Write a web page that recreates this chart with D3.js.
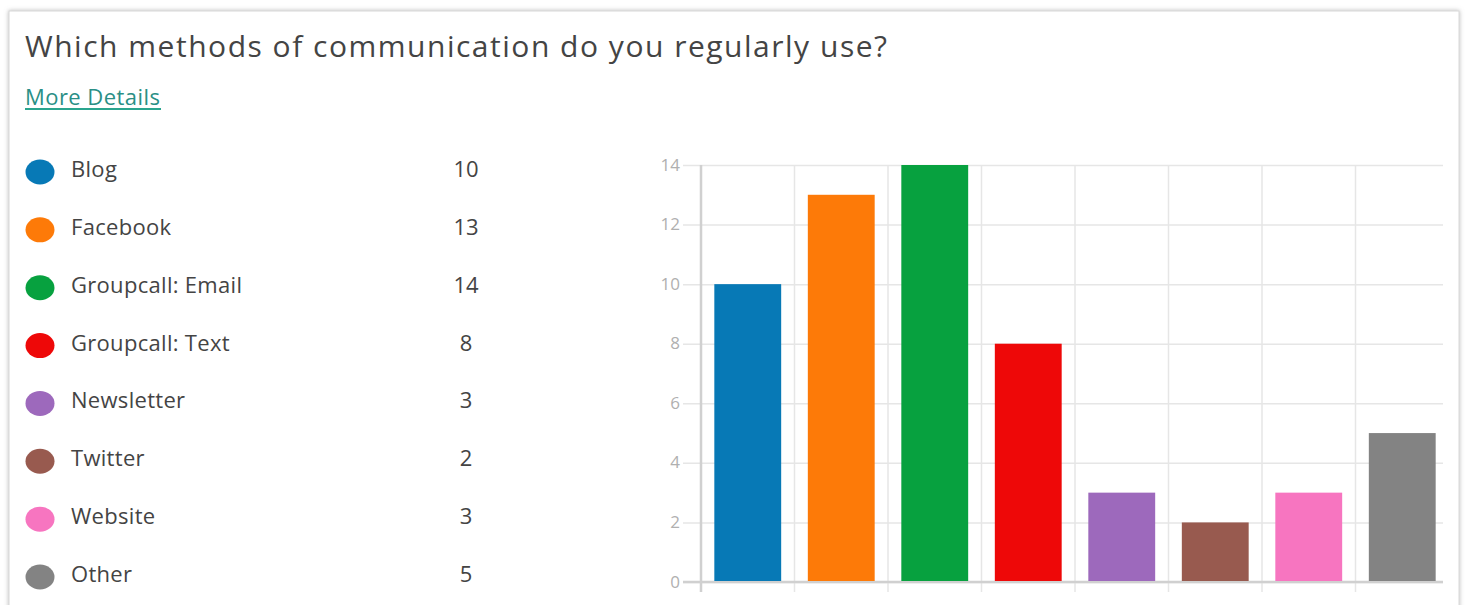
<!DOCTYPE html>
<html>
<head>
<meta charset="utf-8">
<script src="https://cdn.jsdelivr.net/npm/d3@7"></script>
<style>
  html, body { margin: 0; padding: 0; background: #fff; }
  svg text { font-family: 'Open Sans', 'Noto Sans', sans-serif; }
</style>
</head>
<body>
<div class="chart-container"></div>
<script>
// data
const categories = ['Blog', 'Facebook', 'Groupcall: Email', 'Groupcall: Text', 'Newsletter', 'Twitter', 'Website', 'Other'];
const counts = [10, 13, 14, 8, 3, 2, 3, 5];
const colors = ['#0779b6', '#fd7a08', '#07a13f', '#ee0808', '#9d69bc', '#985a4f', '#f775c0', '#838383'];
const yTicks = [0, 2, 4, 6, 8, 10, 12, 14];
const title = 'Which methods of communication do you regularly use?';

const data = categories.map((c, i) => ({name: c, value: counts[i], color: colors[i]}));

const svg_width = 1467;
const svg_height = 605;

const svg = d3.select('.chart-container')
              .append('svg')
              .attr('width', svg_width)
              .attr('height', svg_height);

// card shadow + border
const defs = svg.append('defs');
const f = defs.append('filter').attr('id', 'shadow').attr('x', '-5%').attr('y', '-5%').attr('width', '110%').attr('height', '110%');
f.append('feDropShadow').attr('dx', 0).attr('dy', 0).attr('stdDeviation', 2).attr('flood-color', '#888').attr('flood-opacity', 0.6);

svg.append('rect')
   .attr('x', 9).attr('y', 11)
   .attr('width', 1450).attr('height', 620)
   .style('fill', '#fff')
   .style('stroke', '#d8d8d8')
   .attr('filter', 'url(#shadow)');

// header
svg.append('text')
   .attr('x', 25).attr('y', 57)
   .attr('textLength', 862)
   .attr('lengthAdjust', 'spacing')
   .text(title)
   .style('font-size', '30px')
   .style('fill', '#444');

svg.append('text')
   .attr('x', 25).attr('y', 105)
   .attr('textLength', 135)
   .attr('lengthAdjust', 'spacing')
   .text('More Details')
   .style('font-size', '22px')
   .style('fill', '#2a8f86');
svg.append('line')
   .attr('x1', 25).attr('x2', 161)
   .attr('y1', 109).attr('y2', 109)
   .style('stroke', '#2aa58e')
   .style('stroke-width', 2);

// legend list
const legendY = d3.scalePoint().domain(categories).range([172, 577]);
const legend = svg.append('g').attr('class', 'legend');
const rows = legend.selectAll('.row').data(data).enter()
                   .append('g').attr('class', 'row')
                   .attr('transform', d => `translate(0, ${legendY(d.name)})`);
rows.append('ellipse')
    .attr('cx', 40).attr('cy', 0)
    .attr('rx', 14.5).attr('ry', 12.5)
    .style('fill', d => d.color);
rows.append('text')
    .attr('x', 71).attr('y', 5)
    .text(d => d.name)
    .style('font-size', '22px')
    .style('letter-spacing', '0.3px')
    .style('fill', '#444');
rows.append('text')
    .attr('x', 466).attr('y', 5)
    .attr('text-anchor', 'middle')
    .text(d => d.value)
    .style('font-size', '22px')
    .style('fill', '#444');

// bar chart
const chart = {left: 701, right: 1449, top: 165, bottom: 582};
const xScale = d3.scaleBand().domain(categories)
                 .range([chart.left, chart.right])
                 .paddingInner(0.285).paddingOuter(0.1425);
const yScale = d3.scaleLinear().domain([0, 14]).range([chart.bottom, chart.top]);

const grid = svg.append('g').attr('class', 'grid');
// vertical grid lines at band boundaries
const bounds = categories.slice(1).map(c => xScale(c) - xScale.step() * xScale.paddingInner() / 2);
grid.selectAll('.vline').data(bounds).enter()
    .append('line')
    .attr('x1', d => d).attr('x2', d => d)
    .attr('y1', chart.top).attr('y2', chart.bottom + 10)
    .style('stroke', '#e6e6e6')
    .style('stroke-width', 1.5);

const yAxis = d3.axisLeft(yScale).tickValues(yTicks)
                .tickSizeInner(-(1443 - chart.left)).tickSizeOuter(0);
const yg = svg.append('g')
              .attr('transform', `translate(${chart.left}, 0)`)
              .call(yAxis);
yg.select('.domain').remove();
yg.selectAll('.tick line')
  .attr('x1', -18)
  .style('stroke', '#e6e6e6')
  .style('stroke-width', 1.5);
yg.selectAll('.tick text')
  .attr('x', -21)
  .attr('dy', '0.3em')
  .style('font-size', '17px')
  .style('font-family', "'Open Sans', sans-serif")
  .style('fill', '#b0b0b0');

// axis lines
svg.append('line')
   .attr('x1', chart.left).attr('x2', chart.left)
   .attr('y1', chart.top).attr('y2', chart.bottom + 10)
   .style('stroke', '#d0d0d0').style('stroke-width', 2.5);
svg.append('line')
   .attr('x1', chart.left - 18).attr('x2', 1443)
   .attr('y1', chart.bottom).attr('y2', chart.bottom)
   .style('stroke', '#d0d0d0').style('stroke-width', 2.5);

svg.append('g').attr('class', 'bars')
   .selectAll('rect').data(data).enter()
   .append('rect')
   .attr('x', d => xScale(d.name))
   .attr('y', d => yScale(d.value))
   .attr('width', xScale.bandwidth())
   .attr('height', d => chart.bottom - 1 - yScale(d.value))
   .style('fill', d => d.color);
</script>
</body>
</html>
